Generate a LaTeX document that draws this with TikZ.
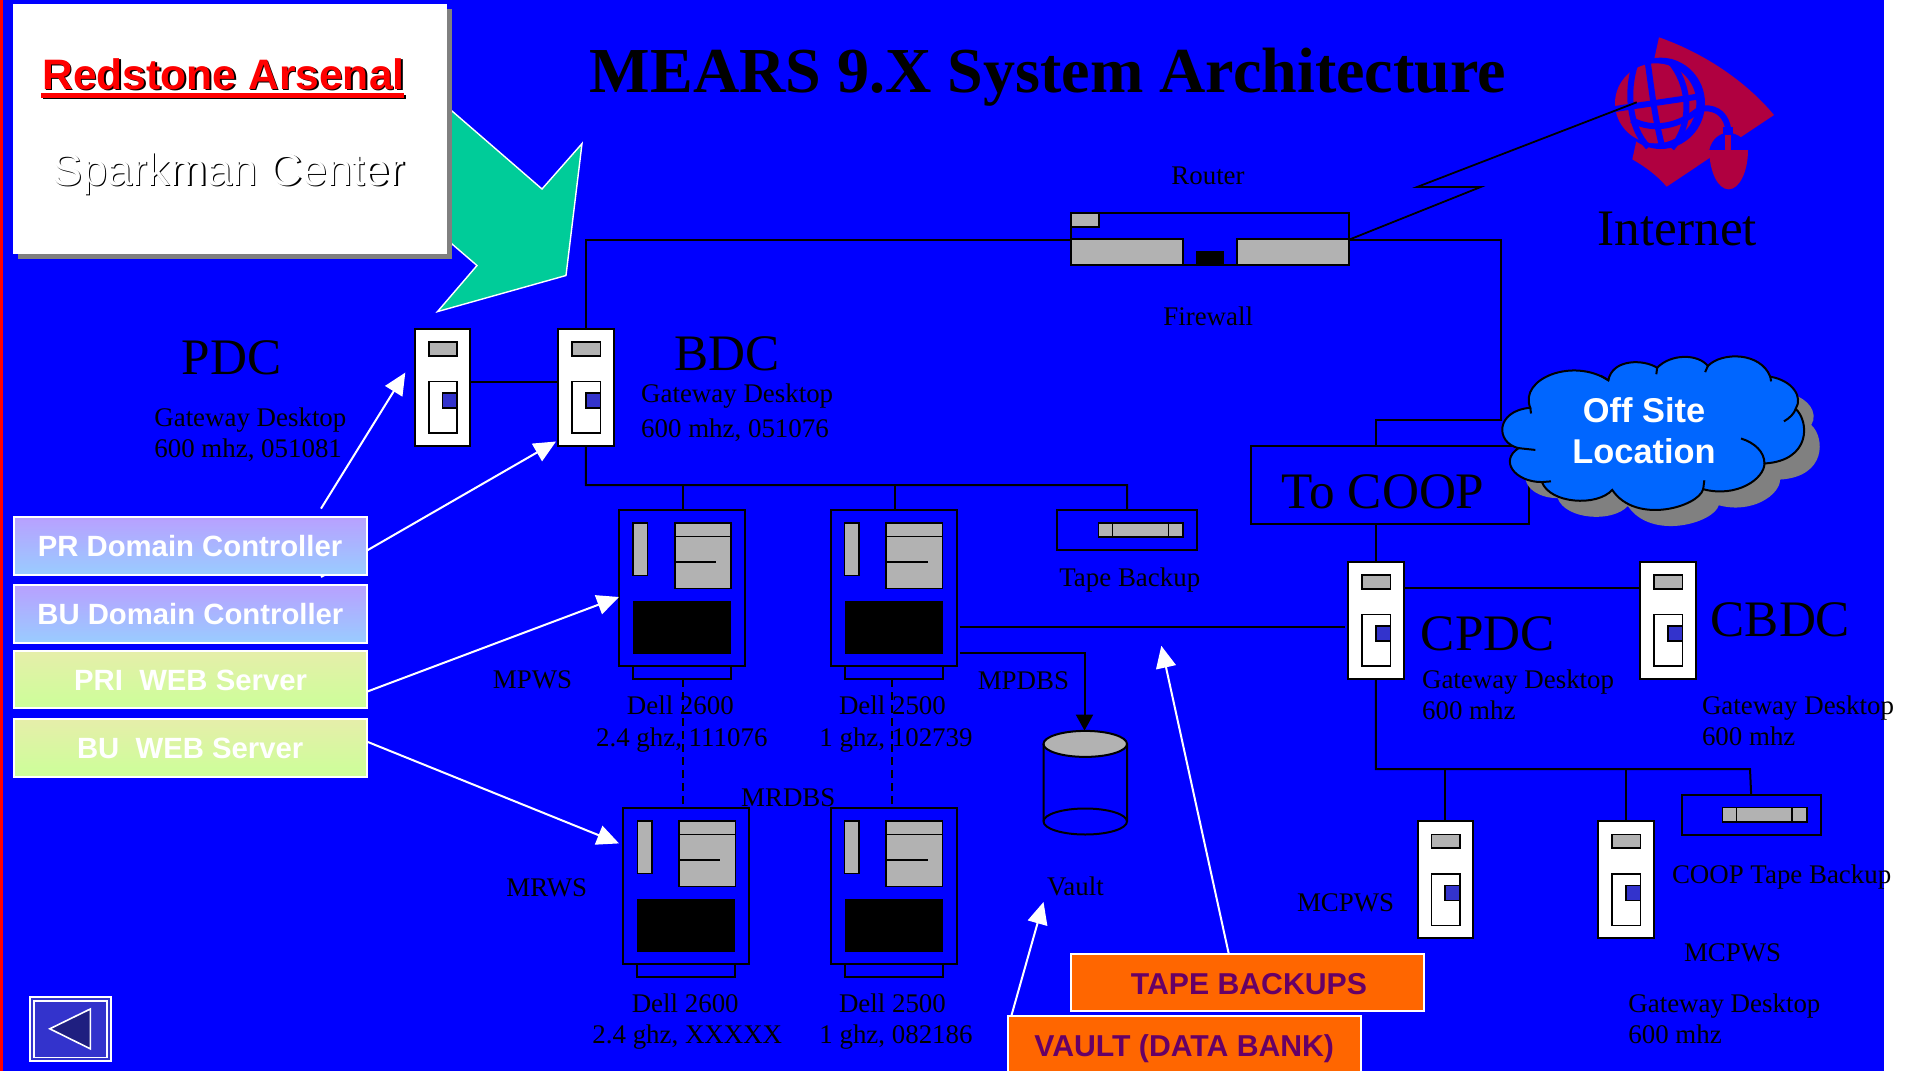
\documentclass[tikz,border=0pt]{standalone}
\usepackage{fontspec}
\setmainfont{Liberation Serif}
\newfontfamily\arialf{Liberation Sans}
\usetikzlibrary{arrows.meta,shapes.geometric}
\definecolor{bgblue}{HTML}{0000FF}
\definecolor{grayfill}{HTML}{B2B2B2}
\definecolor{teal}{HTML}{00CC99}
\definecolor{lilac}{HTML}{B8A0FF}
\definecolor{skyb}{HTML}{99CCFF}
\definecolor{sand}{HTML}{E6EEAA}
\definecolor{lime}{HTML}{CCFF99}
\definecolor{orangeb}{HTML}{FF6600}
\definecolor{purpt}{HTML}{660066}
\definecolor{crimson}{HTML}{B00040}
\definecolor{cloudb}{HTML}{0066FF}
\definecolor{btn}{HTML}{3333CC}
\definecolor{btnd}{HTML}{1F1F80}
\tikzset{
  lab/.style={anchor=base west,inner sep=0pt,text=black},
  txts/.style={lab,yshift=-0.6pt,font=\fontsize{13.45pt}{16pt}\selectfont},
  txtl/.style={lab,yshift=-0.5pt,xshift=-0.6pt,font=\fontsize{25.6pt}{30pt}\selectfont},
  sanswhite/.style={anchor=base,inner sep=0pt,text=white,font=\arialf\bfseries\fontsize{14.65pt}{17pt}\selectfont},
  orangetxt/.style={lab,text=purpt,font=\arialf\bfseries\fontsize{15.1pt}{18pt}\selectfont},
  wire/.style={draw=black,line width=1pt},
  dashwire/.style={draw=black,line width=1pt,dash pattern=on 4pt off 2.5pt},
  warrow/.style={draw=white,line width=1pt,-{Triangle[length=11pt,width=10pt,fill=white]}},
  devbox/.style={draw=black,line width=1pt,anchor=north west,inner sep=0pt,outer sep=0pt},
  graypart/.style={draw=black,fill=grayfill,line width=.8pt},
  rolebox/.style={draw=white,line width=1pt,anchor=north west,inner sep=0pt,outer sep=0pt},
}
\newcommand\towerdev[3]{%
  \node[devbox,fill=white,minimum width=27.75pt,minimum height=58.5pt] (#1) at (#2,#3) {};
  \begin{scope}[shift={(#2,#3)}]
    \draw[graypart] (14,13) rectangle (42.3,26.7);
    \draw[draw=black,fill=white,line width=.8pt] (14,52.5) rectangle (42.3,104);
    \draw[draw=black,fill=btn,line width=.8pt] (27.7,64) rectangle (42.3,79);
  \end{scope}}
\newcommand\delldev[3]{%
  \node[devbox,fill=bgblue,minimum width=63pt,minimum height=78pt] (#1) at (#2,#3) {};
  \node[devbox,fill=bgblue,minimum width=49pt,minimum height=6.7pt] (#1b) at ([xshift=7pt]#1.south west) {};
  \begin{scope}[shift={(#2,#3)}]
    \draw[graypart] (14,13) rectangle (28.5,65.4);
    \draw[graypart] (55.7,13) rectangle (112,78.6);
    \draw[black,line width=.8pt] (55.7,26.5) -- (112,26.5);
    \draw[black,line width=.8pt] (55.7,51.8) -- (97,51.8);
    \fill[black] (14,90.6) rectangle (112,143.8);
  \end{scope}}
\newcommand\tapedev[5]{% name x y w h ; inner offsets fixed
  \node[devbox,fill=bgblue,minimum width=#4*0.5pt,minimum height=#5*0.5pt] (#1) at (#2,#3) {};
  \begin{scope}[shift={(#2,#3)}]
    \draw[graypart] (0.295*#4,0.32*#5) rectangle (0.9*#4,0.68*#5);
    \draw[black,line width=.8pt] (0.395*#4,0.32*#5) -- (0.395*#4,0.68*#5);
    \draw[black,line width=.8pt] (0.795*#4,0.32*#5) -- (0.795*#4,0.68*#5);
  \end{scope}}
\newcommand\cloudpath{(590,1142) .. controls (560,1060) and (700,1000) .. (790,1065)
  .. controls (800,1005) and (880,1005) .. (915,1030)
  .. controls (950,990) and (1020,990) .. (1045,1025)
  .. controls (1080,985) and (1180,985) .. (1205,1055)
  .. controls (1260,1065) and (1290,1110) .. (1270,1145)
  .. controls (1305,1180) and (1310,1290) .. (1190,1298)
  .. controls (1190,1340) and (1120,1395) .. (1033,1370)
  .. controls (1020,1420) and (860,1470) .. (800,1372)
  .. controls (760,1420) and (640,1410) .. (620,1350)
  .. controls (550,1350) and (510,1290) .. (560,1255)
  .. controls (500,1240) and (500,1150) .. (590,1142) -- cycle}
\begin{document}
\begin{tikzpicture}[x=0.5pt,y=-0.5pt]
\useasboundingbox (0,0) rectangle (1912,1071);
\fill[white] (0,0) rectangle (1912,1071);
\fill[bgblue] (0,0) rectangle (1884,1071);
\fill[red] (0,0) rectangle (3.3,1071);

% title
\node[lab,font=\bfseries\fontsize{32.05pt}{38pt}\selectfont] (title) at (589.4,92.7) {MEARS 9.X System Architecture};

% green arrow behind the title box
\draw[fill=teal,draw=white,line width=.7pt] (452,111) -- (542,189) -- (582,143.6) -- (566,275.5) -- (437.5,311.6) -- (477,265.5) -- (452,244) -- (420,210) -- (420,80) -- cycle;

% title box
\fill[gray] (18,9) rectangle (452,258.5);
\node[anchor=north west,fill=white,inner sep=0pt,outer sep=0pt,minimum width=217pt,minimum height=124.75pt] (titlebox) at (13,4) {};
\fill[black] (42.5,94.5) rectangle (406,99);
\fill[red] (41,93) rectangle (404,97.5);
\node[lab,text=black,font=\arialf\bfseries\fontsize{21.3pt}{25pt}\selectfont] (rs0) at (43.5,90.5) {Redstone Arsenal};
\node[lab,text=red,font=\arialf\bfseries\fontsize{21.3pt}{25pt}\selectfont] (rs) at (42,89) {Redstone Arsenal};
\node[lab,text=black,font=\arialf\fontsize{22.5pt}{26pt}\selectfont] (sp0) at (53.5,186.5) {Sparkman Center};
\node[lab,text=white,font=\arialf\fontsize{22.5pt}{26pt}\selectfont] (sp) at (52,185) {Sparkman Center};

% named free ends
\coordinate (lnk) at (500,381.5);
\coordinate (rtin) at (1071,239.7);
\coordinate (rtout) at (1349,239.7);
\coordinate (cj) at (1501,420);
\coordinate (ctop) at (1376,445.7);
\coordinate (bus) at (1127,485);
\coordinate (d2out) at (959.5,627);
\coordinate (cpin) at (1345.4,627);
\coordinate (d2v) at (959.5,652.6);
\coordinate (vtop) at (1084.5,730.6);
\coordinate (clnk) at (1500,588);
\coordinate (cbus) at (1750,769);
\coordinate (zig1) at (1480.7,187);
\coordinate (zig2) at (1417,187);
\coordinate (zig3) at (1636.7,102.3);
\coordinate (dcfree) at (321,508.6);
\coordinate (bufree) at (321,577);
\coordinate (pdctip) at (405.3,372.6);
\coordinate (bdctip) at (556,441.5);
\coordinate (mpwstip) at (619,597);
\coordinate (mrwstip) at (619,843.4);
\coordinate (tapetip) at (1161.3,645.8);
\coordinate (vaulttip) at (1043.5,902);
\coordinate (tapefoot) at (1228.8,954);
\coordinate (vaultfoot) at (1011.3,1016);

% devices
\towerdev{pdc}{414.7}{329}
\towerdev{bdc}{558}{329}
\towerdev{cpdc}{1348}{562}
\towerdev{cbdc}{1640}{562}
\towerdev{mc1}{1417.5}{821.4}
\towerdev{mc2}{1598}{821.4}
\delldev{d1}{619}{510}
\delldev{d2}{830.5}{510}
\delldev{d3}{623.4}{808}
\delldev{d4}{830.5}{808}
\tapedev{tapea}{1057.3}{510}{139.7}{40}
\tapedev{tapec}{1681.5}{794.6}{139.3}{40.4}

% router
\node[devbox,fill=bgblue,minimum width=139pt,minimum height=26.15pt] (router) at (1071,212.7) {};
\draw[graypart] (1071,212.7) rectangle (1099,226.7);
\draw[graypart] (1071,239) rectangle (1183,265);
\draw[graypart] (1237,239) rectangle (1349,265);
\fill[black] (1195.6,251) rectangle (1224.4,265);

% wires
\draw[wire] (pdc.east |- lnk) -- (bdc.west |- lnk);
\draw[wire] (bdc.north) |- (rtin);
\draw[wire] (rtout) -| (cj) -| (ctop);
\draw[wire] (bdc.south) |- (bus) -- (tapea.north);
\draw[wire] ([xshift=.5pt]d1.north) -- ([xshift=.5pt]d1.north |- bus);
\draw[wire] ([xshift=.5pt]d2.north) -- ([xshift=.5pt]d2.north |- bus);
\draw[dashwire] ([xshift=.5pt]d1b.south) -- ([xshift=.5pt]d1b.south |- d3.north);
\draw[dashwire] ([xshift=-1pt]d2b.south) -- ([xshift=-1pt]d2b.south |- d4.north);
\draw[wire] (d2out) -- (cpin);
\draw[wire,-{Triangle[length=8pt,width=8.5pt,fill=black]}] (d2v) -| (vtop);
\draw[wire] (cpdc.east |- clnk) -- (cbdc.west |- clnk);
\draw[wire] (cpdc.south) |- (cbus) -- (tapec.north);
\draw[wire] (mc1.north) -- (mc1.north |- cbus);
\draw[wire] (mc2.north) -- (mc2.north |- cbus);

% To COOP box and link to CPDC
\node[devbox,minimum width=138.85pt,minimum height=39.15pt] (coop) at (1251,445.7) {};
\draw[wire] (coop.south -| cpdc.north) -- (cpdc.north);
\node[txtl] (cooptxt) at (1282.6,507) {To COOP};

% vault cylinder
\draw[wire,fill=bgblue] (1043.5,743.9) -- (1043.5,821.5) arc[start angle=180,end angle=360,x radius=41.75,y radius=-13] -- (1127,743.9);
\draw[wire] (1043.5,821.5) arc[start angle=180,end angle=0,x radius=41.75,y radius=-13];
\draw[wire,fill=grayfill] (1085.25,743.9) ellipse[x radius=41.75,y radius=13];

% internet icon, in the crop's coordinates
\begin{scope}[shift={(1590,20)},x=0.5pt/3,y=-0.5pt/3]
  \fill[crimson] (207,52) .. controls (330,95) and (460,175) .. (552,285) -- (230,500) .. controls (200,465) and (165,440) .. (127,418) -- cycle;
  \fill[bgblue] (212,250) ellipse[x radius=133,y radius=137];
  \fill[crimson] (197,250) ellipse[x radius=122,y radius=120];
  \begin{scope}[draw=bgblue,line width=3pt]
    \draw (172,118) .. controls (185,210) and (195,300) .. (218,385);
    \draw (135,135) .. controls (110,210) and (115,320) .. (175,382);
    \draw (238,122) .. controls (300,190) and (310,310) .. (245,385);
    \draw (70,268) .. controls (150,255) and (260,240) .. (335,228);
    \draw (125,300) .. controls (190,335) and (270,320) .. (335,262);
    \draw (340,265) .. controls (385,262) and (410,290) .. (415,330);
  \end{scope}
  \fill[crimson] (358,390) arc[start angle=180,end angle=360,x radius=58,y radius=-118] -- cycle;
  \fill[bgblue] (358,390) .. controls (365,360) and (385,340) .. (415,338) .. controls (445,340) and (470,360) .. (476,390) -- cycle;
  \fill[bgblue] (400,322) rectangle (428,342);
  \fill[crimson] (405,345) rectangle (422,390);
\end{scope}
\draw[black,line width=.9pt] (rtout) -- (zig1) -- (zig2) -- (zig3);
\node[txtl] (internet) at (1598.6,244.6) {Internet};

% cloud, in the crop's coordinates
\begin{scope}[shift={(1300,0)},x=0.5pt/2.562,y=-0.5pt/2.8]
  \begin{scope}[shift={(40,45)}]
    \fill[gray] \cloudpath;
  \end{scope}
  \draw[fill=cloudb,draw=black,line width=1pt] \cloudpath;
  \begin{scope}[draw=black,line width=1pt]
    \draw (770,1052) -- (792,1066);
    \draw (915,1030) -- (913,1048);
    \draw (1045,1025) -- (1038,1042);
    \draw (1205,1055) -- (1207,1068);
    \draw (1270,1145) .. controls (1265,1160) and (1255,1170) .. (1240,1180);
    \draw (1190,1298) .. controls (1190,1265) and (1165,1240) .. (1130,1228);
    \draw (1033,1370) -- (1036,1345);
    \draw (620,1350) -- (643,1348);
    \draw (560,1255) -- (603,1260);
    \draw (590,1142) -- (592,1158);
  \end{scope}
\end{scope}
\node[anchor=base,inner sep=0pt,text=white,font=\arialf\bfseries\fontsize{17.2pt}{20pt}\selectfont] (off1) at (1644,422.4) {Off Site};
\node[anchor=base,inner sep=0pt,text=white,font=\arialf\bfseries\fontsize{17.2pt}{20pt}\selectfont] (off2) at (1644,463.5) {Location};

% white arrows (under the role boxes)
\draw[warrow] (dcfree) -- (pdctip);
\draw[warrow] (bufree) -- (bdctip);

% role boxes
\node[rolebox,top color=lilac,bottom color=skyb,minimum width=176.4pt,minimum height=28.9pt] (prdc) at (13.8,516.8) {};
\node[rolebox,top color=lilac,bottom color=skyb,minimum width=176.8pt,minimum height=28.9pt] (budc) at (13.8,585) {};
\node[rolebox,top color=sand,bottom color=lime,minimum width=176.8pt,minimum height=28.75pt] (priw) at (13.8,650.8) {};
\node[rolebox,top color=sand,bottom color=lime,minimum width=176.8pt,minimum height=28.9pt] (buw) at (13.8,719) {};
\node[sanswhite] (t1) at (190,556.4) {PR Domain Controller};
\node[sanswhite] (t2) at (190.4,624.5) {BU Domain Controller};
\node[sanswhite] (t3) at (190.6,690) {PRI\ \ WEB Server};
\node[sanswhite] (t4) at (190.2,758.5) {BU\ \ WEB Server};
\draw[warrow] (priw.east |- 0,691.5) -- (mpwstip);
\draw[warrow] (buw.east |- 0,741.8) -- (mrwstip);

% orange boxes
\draw[warrow] (tapefoot) -- (tapetip);
\draw[warrow] (vaultfoot) -- (vaulttip);
\node[rolebox,fill=orangeb,minimum width=176.65pt,minimum height=28.5pt] (tapeb) at (1070.7,954) {};
\node[orangetxt] (tbt) at (1130.5,994) {TAPE BACKUPS};
\node[rolebox,fill=orangeb,minimum width=176.5pt,minimum height=32pt] (vaultb) at (1008,1016) {};
\node[orangetxt] (vbt) at (1034,1056) {VAULT (DATA BANK)};

% back button
\node[rolebox,fill=btn,minimum width=40.35pt,minimum height=32.15pt] (back) at (29.9,996.7) {};
\draw[white,line width=.8pt] (33.7,1000.7) rectangle (106.8,1057.5);
\draw[white,fill=btnd,line width=.8pt] (49.8,1028.8) -- (90.3,1009) -- (90.3,1048.8) -- cycle;

% labels
\node[txtl] (lpdc) at (182.4,373) {PDC};
\node[txts] (lpdc1) at (154,425) {Gateway Desktop};
\node[txts] (lpdc2) at (154,456) {600 mhz, 051081};
\node[txtl] (lbdc) at (675,369) {BDC};
\node[txts] (lbdc1) at (640.8,401.7) {Gateway Desktop};
\node[txts] (lbdc2) at (640.8,436) {600 mhz, 051076};
\node[txts] (lrouter) at (1171,183) {Router};
\node[txts] (lfw) at (1163,324.7) {Firewall};
\node[txts] (ltape) at (1059,584.8) {Tape Backup};
\node[txts] (lmpws) at (492.5,687.5) {MPWS};
\node[txts] (lmrws) at (506,895) {MRWS};
\node[txts] (lmpdbs) at (977.4,688) {MPDBS};
\node[txts] (lmrdbs) at (740.8,805.7) {MRDBS};
\node[txts] (lvault) at (1046.6,894.6) {Vault};
\node[txts] (ld1) at (626.5,713.7) {Dell 2600};
\node[txts] (ld1b) at (595.7,745) {2.4 ghz, 111076};
\node[txts] (ld2) at (838.6,713.7) {Dell 2500};
\node[txts] (ld2b) at (819,745) {1 ghz, 102739};
\node[txts] (ld3) at (631.4,1011.5) {Dell 2600};
\node[txts] (ld3b) at (592,1042.7) {2.4 ghz, XXXXX};
\node[txts] (ld4) at (838.6,1011.5) {Dell 2500};
\node[txts] (ld4b) at (819,1042.7) {1 ghz, 082186};
\node[txtl] (lcp) at (1421.7,649) {CPDC};
\node[txts] (lcp1) at (1421.7,687.6) {Gateway Desktop};
\node[txts] (lcp2) at (1421.7,718.5) {600 mhz};
\node[txtl] (lcb) at (1711.5,635.8) {CBDC};
\node[txts] (lcb1) at (1701.6,713.7) {Gateway Desktop};
\node[txts] (lcb2) at (1701.6,744) {600 mhz};
\node[txts] (lm1) at (1296.6,909.8) {MCPWS};
\node[txts] (lct) at (1671.6,882) {COOP Tape Backup};
\node[txts] (lm2) at (1683.6,960) {MCPWS};
\node[txts] (lg3) at (1628,1011.7) {Gateway Desktop};
\node[txts] (lg3b) at (1628,1042.5) {600 mhz};
\end{tikzpicture}
\end{document}
